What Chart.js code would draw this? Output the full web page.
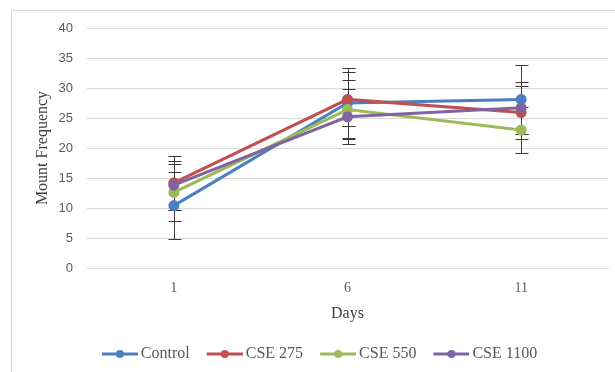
<!DOCTYPE html>
<html>
<head>
<meta charset="utf-8">
<script src="https://cdn.jsdelivr.net/npm/chart.js@4"></script>
<style>
  body { margin: 0; background: #fff; }
  #frame { position: absolute; left: 11px; top: 10px; width: 620px; height: 380px;
           border-left: 1px solid #d9d9d9; border-top: 1px solid #d9d9d9; }
  #wrap { position: absolute; left: 0; top: 0; width: 615px; height: 372px; }
</style>
</head>
<body>
<div id="frame"></div>
<div id="wrap"><canvas id="myChart" width="615" height="372"></canvas></div>
<script>
// 読み取った値
const days = ['1', '6', '11'];
const seriesNames = ['Control', 'CSE 275', 'CSE 550', 'CSE 1100'];
const control = [10.4, 27.5, 28.1];
const cse275 = [14.2, 28.1, 25.9];
const cse550 = [12.6, 26.4, 23.0];
const cse1100 = [13.8, 25.2, 26.7];
// 誤差（±）
const controlErr = [5.6, 5.9, 5.8];
const cse275Err = [4.5, 4.5, 4.4];
const cse550Err = [4.7, 4.9, 3.9];
const cse1100Err = [4.1, 4.6, 4.3];
const yTicks = [0, 5, 10, 15, 20, 25, 30, 35, 40];

const colors = ['#4a7fc1', '#c0504d', '#9bbb59', '#8064a2'];
const values = [control, cse275, cse550, cse1100];
const errors = [controlErr, cse275Err, cse550Err, cse1100Err];

// 凡例用：線＋丸のマーク（右寄せで描いて項目の間隔をあける）
function legendMark(color) {
    const c = document.createElement('canvas');
    c.width = 50; c.height = 10;
    const g = c.getContext('2d');
    g.strokeStyle = color; g.lineWidth = 3;
    g.beginPath(); g.moveTo(14, 5); g.lineTo(50, 5); g.stroke();
    g.fillStyle = color;
    g.beginPath(); g.arc(32, 5, 4, 0, Math.PI * 2); g.fill();
    return c;
}
const marks = colors.map(legendMark);

// エラーバー
const errorBars = {
    id: 'errorBars',
    beforeDatasetsDraw(chart) {
        const ctx = chart.ctx;
        const y = chart.scales.y;
        ctx.save();
        ctx.strokeStyle = '#3a3a3a';
        ctx.lineWidth = 1;
        chart.data.datasets.forEach((ds, i) => {
            const meta = chart.getDatasetMeta(i);
            meta.data.forEach((pt, j) => {
                const x = Math.round(pt.x) + 0.5;
                const hi = Math.round(y.getPixelForValue(ds.data[j] + errors[i][j])) + 0.5;
                const lo = Math.round(y.getPixelForValue(ds.data[j] - errors[i][j])) + 0.5;
                ctx.beginPath();
                ctx.moveTo(x, hi); ctx.lineTo(x, lo);
                ctx.moveTo(x - 6, hi); ctx.lineTo(x + 7, hi);
                ctx.moveTo(x - 6, lo); ctx.lineTo(x + 7, lo);
                ctx.stroke();
            });
        });
        ctx.restore();
    }
};

const ctx = document.getElementById('myChart');
const myChart = new Chart(ctx, {
    type: 'line',
    data: {
        labels: days,
        datasets: seriesNames.map((name, i) => ({
            label: name,
            data: values[i],
            borderColor: colors[i],
            backgroundColor: colors[i],
            pointBackgroundColor: colors[i],
            pointBorderColor: colors[i],
            borderWidth: 3,
            pointRadius: 4,
            tension: 0,
            order: 4 - i
        }))
    },
    options: {
        responsive: false,
        animation: false,
        layout: { padding: { left: 20, top: 28, right: 5, bottom: 0 } },
        scales: {
            x: {
                offset: true,
                grid: { display: false },
                border: { display: true, color: '#d9d9d9' },
                ticks: { color: '#595959', font: { family: 'Liberation Serif', size: 14 }, padding: 4 },
                title: { display: true, text: 'Days', color: '#404040',
                         font: { family: 'Liberation Serif', size: 16 }, padding: { top: 0, bottom: 15 } },
                afterFit: s => { s.height = 70; }
            },
            y: {
                min: 0, max: 40,
                afterBuildTicks: s => { s.ticks = yTicks.map(v => ({ value: v })); },
                grid: { color: '#d9d9d9', drawTicks: false },
                border: { display: false },
                ticks: { color: '#595959', font: { family: 'Liberation Sans', size: 13 }, padding: 14 },
                title: { display: true, text: 'Mount Frequency', color: '#404040',
                         font: { family: 'Liberation Serif', size: 16 }, padding: { top: 13, bottom: 0 } },
                afterFit: s => { s.width = 67; }
            }
        },
        plugins: {
            legend: {
                position: 'bottom',
                labels: {
                    usePointStyle: true,
                    pointStyleWidth: 40,
                    padding: 8,
                    color: '#595959',
                    font: { family: 'Liberation Serif', size: 16 },
                    generateLabels(chart) {
                        const items = Chart.defaults.plugins.legend.labels.generateLabels(chart);
                        items.forEach(it => { it.pointStyle = marks[it.datasetIndex]; });
                        return items;
                    },
                    sort: (a, b) => a.datasetIndex - b.datasetIndex
                }
            },
            tooltip: { enabled: false }
        }
    },
    plugins: [errorBars]
});
</script>
</body>
</html>
